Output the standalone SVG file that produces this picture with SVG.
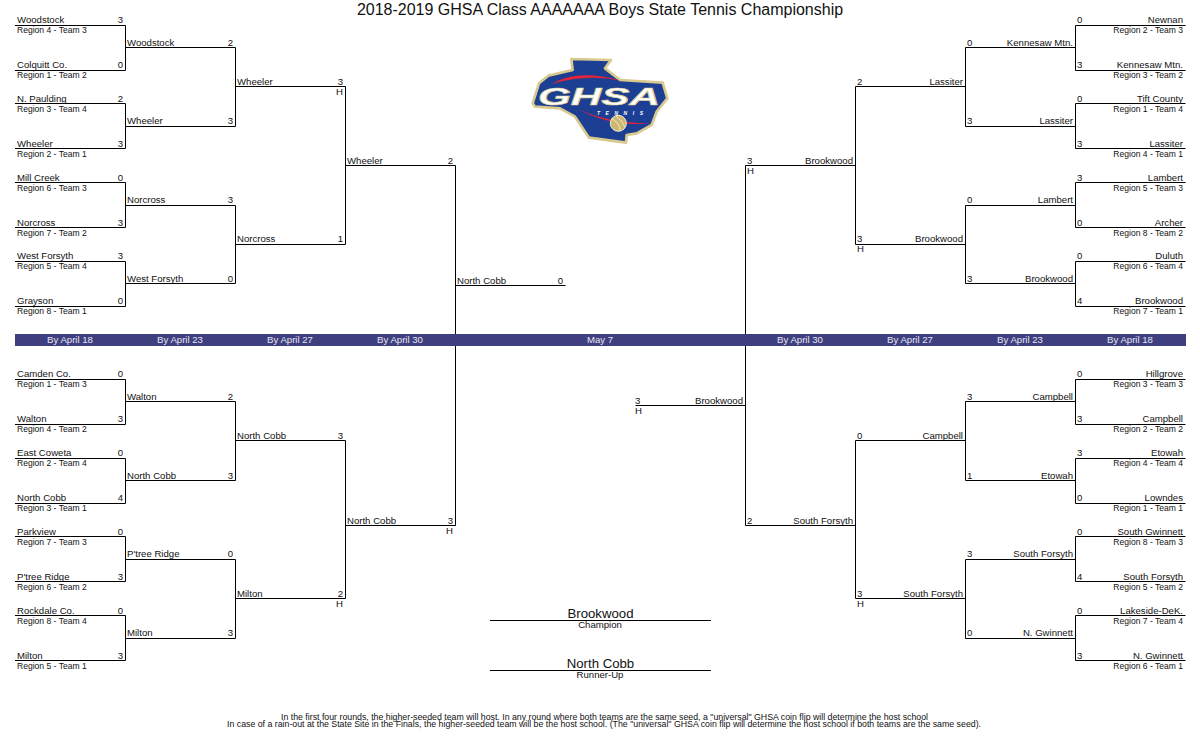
<svg xmlns="http://www.w3.org/2000/svg" width="1200" height="750" viewBox="0 0 1200 750">
<style>
text{font-family:"Liberation Sans",Arial,sans-serif;font-size:9.6px;fill:#111;opacity:.999}
.r{font-size:8.55px}
.e{text-anchor:end}
.m{text-anchor:middle}
.d{fill:#e6e6f2}
.big{font-size:13.2px}
.title{font-size:16px}
.fn{font-size:8.6px}
.line{fill:none;stroke:#000;stroke-width:1}
.gh{font-size:24px;font-weight:bold;font-style:italic;fill:#fff;stroke:#d8c98e;stroke-width:.7}
.tn{font-size:5px;font-weight:bold;font-style:italic;fill:#fff}
</style>
<rect width="1200" height="750" fill="#fff"/>
<text id="title" class="m title" x="600" y="14.5">2018-2019 GHSA Class AAAAAAA Boys State Tennis Championship</text>
<g id="connectors" class="line">
<path d="M15,25.5H125.5V70.5H15M15,103.5H125.5V148.5H15M15,182.5H125.5V227.5H15M15,261.5H125.5V306.5H15M15,379.5H125.5V424.5H15M15,458.5H125.5V503.5H15M15,536.5H125.5V581.5H15M15,615.5H125.5V660.5H15"/>
<path d="M125.5,47.5H235.5V126.5H125.5M125.5,205.5H235.5V283.5H125.5M125.5,401.5H235.5V480.5H125.5M125.5,559.5H235.5V638.5H125.5"/>
<path d="M235.5,86.5H345.5V244.5H235.5M235.5,440.5H345.5V598.5H235.5"/>
<path d="M345.5,165.5H455.5V525.5H345.5M455.5,285.5H565.5"/>
<path d="M1185.5,25.5H1075.5V70.5H1185.5M1185.5,103.5H1075.5V148.5H1185.5M1185.5,182.5H1075.5V227.5H1185.5M1185.5,261.5H1075.5V306.5H1185.5M1185.5,379.5H1075.5V424.5H1185.5M1185.5,458.5H1075.5V503.5H1185.5M1185.5,536.5H1075.5V581.5H1185.5M1185.5,615.5H1075.5V660.5H1185.5"/>
<path d="M1075.5,47.5H965.5V126.5H1075.5M1075.5,205.5H965.5V283.5H1075.5M1075.5,401.5H965.5V480.5H1075.5M1075.5,559.5H965.5V638.5H1075.5"/>
<path d="M965.5,86.5H855.5V244.5H965.5M965.5,440.5H855.5V598.5H965.5"/>
<path d="M855.5,165.5H745.5V525.5H855.5M745.5,405.5H635.5"/>
<path d="M490,620.5H711M490,670.5H711"/>
</g>
<g id="date-band">
<rect x="15" y="334" width="1171" height="12" fill="#3f3f7f"/>
<text class="m d" x="70" y="343">By April 18</text>
<text class="m d" x="180" y="343">By April 23</text>
<text class="m d" x="290" y="343">By April 27</text>
<text class="m d" x="400" y="343">By April 30</text>
<text class="m d" x="600" y="343">May 7</text>
<text class="m d" x="800" y="343">By April 30</text>
<text class="m d" x="910" y="343">By April 27</text>
<text class="m d" x="1020" y="343">By April 23</text>
<text class="m d" x="1130" y="343">By April 18</text>
</g>
<g id="logo">
<g transform="translate(510,40) scale(.3333)">
<path d="M184,57L303,60L285,85L330,120L458,128L472,175L440,215L425,255L380,280L350,285L348,308L237,293L205,245L195,230L150,205L75,200L68,190L87,130L115,107L188,90Z" fill="#1c3f94" stroke="#d8c98e" stroke-width="8" stroke-linejoin="round"/>
<path d="M125,132Q200,85 335,122Q230,100 125,132Z" fill="#e0243a"/>
<path d="M200,205Q290,250 420,250Q300,262 200,205Z" fill="#e0243a"/>
<circle cx="325" cy="250" r="24" fill="#cdb66f" stroke="#f4f0dc" stroke-width="3"/>
<path d="M305,235Q330,250 330,272M318,228Q340,245 345,262" fill="none" stroke="#fff" stroke-width="2"/>
</g>
<text class="gh" x="538" y="105" textLength="122" lengthAdjust="spacingAndGlyphs">GHSA</text>
<text class="tn" x="597" y="115" textLength="46">TENNIS</text>
</g>
<g id="left-round-1">
<g id="l1-1"><text x="17" y="23">Woodstock</text><text class="e" x="123" y="23">3</text><text class="r" x="17" y="33">Region 4 - Team 3</text></g>
<g id="l1-2"><text x="17" y="68">Colquitt Co.</text><text class="e" x="123" y="68">0</text><text class="r" x="17" y="78">Region 1 - Team 2</text></g>
<g id="l1-3"><text x="17" y="102">N. Paulding</text><text class="e" x="123" y="102">2</text><text class="r" x="17" y="112">Region 3 - Team 4</text></g>
<g id="l1-4"><text x="17" y="147">Wheeler</text><text class="e" x="123" y="147">3</text><text class="r" x="17" y="157">Region 2 - Team 1</text></g>
<g id="l1-5"><text x="17" y="181">Mill Creek</text><text class="e" x="123" y="181">0</text><text class="r" x="17" y="191">Region 6 - Team 3</text></g>
<g id="l1-6"><text x="17" y="226">Norcross</text><text class="e" x="123" y="226">3</text><text class="r" x="17" y="236">Region 7 - Team 2</text></g>
<g id="l1-7"><text x="17" y="259">West Forsyth</text><text class="e" x="123" y="259">3</text><text class="r" x="17" y="269">Region 5 - Team 4</text></g>
<g id="l1-8"><text x="17" y="304">Grayson</text><text class="e" x="123" y="304">0</text><text class="r" x="17" y="314">Region 8 - Team 1</text></g>
<g id="l1-9"><text x="17" y="377">Camden Co.</text><text class="e" x="123" y="377">0</text><text class="r" x="17" y="387">Region 1 - Team 3</text></g>
<g id="l1-10"><text x="17" y="422">Walton</text><text class="e" x="123" y="422">3</text><text class="r" x="17" y="432">Region 4 - Team 2</text></g>
<g id="l1-11"><text x="17" y="456">East Coweta</text><text class="e" x="123" y="456">0</text><text class="r" x="17" y="466">Region 2 - Team 4</text></g>
<g id="l1-12"><text x="17" y="501">North Cobb</text><text class="e" x="123" y="501">4</text><text class="r" x="17" y="511">Region 3 - Team 1</text></g>
<g id="l1-13"><text x="17" y="535">Parkview</text><text class="e" x="123" y="535">0</text><text class="r" x="17" y="545">Region 7 - Team 3</text></g>
<g id="l1-14"><text x="17" y="580">P'tree Ridge</text><text class="e" x="123" y="580">3</text><text class="r" x="17" y="590">Region 6 - Team 2</text></g>
<g id="l1-15"><text x="17" y="614">Rockdale Co.</text><text class="e" x="123" y="614">0</text><text class="r" x="17" y="624">Region 8 - Team 4</text></g>
<g id="l1-16"><text x="17" y="659">Milton</text><text class="e" x="123" y="659">3</text><text class="r" x="17" y="669">Region 5 - Team 1</text></g>
</g>
<g id="left-round-2">
<g id="l2-1"><text x="127" y="46">Woodstock</text><text class="e" x="233" y="46">2</text></g>
<g id="l2-2"><text x="127" y="124">Wheeler</text><text class="e" x="233" y="124">3</text></g>
<g id="l2-3"><text x="127" y="203">Norcross</text><text class="e" x="233" y="203">3</text></g>
<g id="l2-4"><text x="127" y="282">West Forsyth</text><text class="e" x="233" y="282">0</text></g>
<g id="l2-5"><text x="127" y="400">Walton</text><text class="e" x="233" y="400">2</text></g>
<g id="l2-6"><text x="127" y="479">North Cobb</text><text class="e" x="233" y="479">3</text></g>
<g id="l2-7"><text x="127" y="557">P'tree Ridge</text><text class="e" x="233" y="557">0</text></g>
<g id="l2-8"><text x="127" y="636">Milton</text><text class="e" x="233" y="636">3</text></g>
</g>
<g id="left-round-3">
<g id="l3-1"><text x="237" y="85">Wheeler</text><text class="e" x="343" y="85">3</text><text class="e" x="343" y="95">H</text></g>
<g id="l3-2"><text x="237" y="242">Norcross</text><text class="e" x="343" y="242">1</text></g>
<g id="l3-3"><text x="237" y="439">North Cobb</text><text class="e" x="343" y="439">3</text></g>
<g id="l3-4"><text x="237" y="597">Milton</text><text class="e" x="343" y="597">2</text><text class="e" x="343" y="607">H</text></g>
</g>
<g id="left-round-4">
<g id="l4-1"><text x="347" y="164">Wheeler</text><text class="e" x="453" y="164">2</text></g>
<g id="l4-2"><text x="347" y="524">North Cobb</text><text class="e" x="453" y="524">3</text><text class="e" x="453" y="534">H</text></g>
</g>
<g id="finalists">
<g id="final-left"><text x="457" y="284">North Cobb</text><text class="e" x="563" y="284">0</text></g>
<g id="final-right"><text class="e" x="743" y="404">Brookwood</text><text x="635" y="404">3</text><text x="635" y="414">H</text></g>
<g id="champion"><text class="m big" x="600.5" y="618">Brookwood</text><text class="m" x="600" y="628">Champion</text></g>
<g id="runner-up"><text class="m big" x="600.5" y="668">North Cobb</text><text class="m" x="600" y="678">Runner-Up</text></g>
</g>
<g id="right-round-1">
<g id="r1-1"><text class="e" x="1183" y="23">Newnan</text><text x="1077" y="23">0</text><text class="e r" x="1183" y="33">Region 2 - Team 3</text></g>
<g id="r1-2"><text class="e" x="1183" y="68">Kennesaw Mtn.</text><text x="1077" y="68">3</text><text class="e r" x="1183" y="78">Region 3 - Team 2</text></g>
<g id="r1-3"><text class="e" x="1183" y="102">Tift County</text><text x="1077" y="102">0</text><text class="e r" x="1183" y="112">Region 1 - Team 4</text></g>
<g id="r1-4"><text class="e" x="1183" y="147">Lassiter</text><text x="1077" y="147">3</text><text class="e r" x="1183" y="157">Region 4 - Team 1</text></g>
<g id="r1-5"><text class="e" x="1183" y="181">Lambert</text><text x="1077" y="181">3</text><text class="e r" x="1183" y="191">Region 5 - Team 3</text></g>
<g id="r1-6"><text class="e" x="1183" y="226">Archer</text><text x="1077" y="226">0</text><text class="e r" x="1183" y="236">Region 8 - Team 2</text></g>
<g id="r1-7"><text class="e" x="1183" y="259">Duluth</text><text x="1077" y="259">0</text><text class="e r" x="1183" y="269">Region 6 - Team 4</text></g>
<g id="r1-8"><text class="e" x="1183" y="304">Brookwood</text><text x="1077" y="304">4</text><text class="e r" x="1183" y="314">Region 7 - Team 1</text></g>
<g id="r1-9"><text class="e" x="1183" y="377">Hillgrove</text><text x="1077" y="377">0</text><text class="e r" x="1183" y="387">Region 3 - Team 3</text></g>
<g id="r1-10"><text class="e" x="1183" y="422">Campbell</text><text x="1077" y="422">3</text><text class="e r" x="1183" y="432">Region 2 - Team 2</text></g>
<g id="r1-11"><text class="e" x="1183" y="456">Etowah</text><text x="1077" y="456">3</text><text class="e r" x="1183" y="466">Region 4 - Team 4</text></g>
<g id="r1-12"><text class="e" x="1183" y="501">Lowndes</text><text x="1077" y="501">0</text><text class="e r" x="1183" y="511">Region 1 - Team 1</text></g>
<g id="r1-13"><text class="e" x="1183" y="535">South Gwinnett</text><text x="1077" y="535">0</text><text class="e r" x="1183" y="545">Region 8 - Team 3</text></g>
<g id="r1-14"><text class="e" x="1183" y="580">South Forsyth</text><text x="1077" y="580">4</text><text class="e r" x="1183" y="590">Region 5 - Team 2</text></g>
<g id="r1-15"><text class="e" x="1183" y="614">Lakeside-DeK.</text><text x="1077" y="614">0</text><text class="e r" x="1183" y="624">Region 7 - Team 4</text></g>
<g id="r1-16"><text class="e" x="1183" y="659">N. Gwinnett</text><text x="1077" y="659">3</text><text class="e r" x="1183" y="669">Region 6 - Team 1</text></g>
</g>
<g id="right-round-2">
<g id="r2-1"><text class="e" x="1073" y="46">Kennesaw Mtn.</text><text x="967" y="46">0</text></g>
<g id="r2-2"><text class="e" x="1073" y="124">Lassiter</text><text x="967" y="124">3</text></g>
<g id="r2-3"><text class="e" x="1073" y="203">Lambert</text><text x="967" y="203">0</text></g>
<g id="r2-4"><text class="e" x="1073" y="282">Brookwood</text><text x="967" y="282">3</text></g>
<g id="r2-5"><text class="e" x="1073" y="400">Campbell</text><text x="967" y="400">3</text></g>
<g id="r2-6"><text class="e" x="1073" y="479">Etowah</text><text x="967" y="479">1</text></g>
<g id="r2-7"><text class="e" x="1073" y="557">South Forsyth</text><text x="967" y="557">3</text></g>
<g id="r2-8"><text class="e" x="1073" y="636">N. Gwinnett</text><text x="967" y="636">0</text></g>
</g>
<g id="right-round-3">
<g id="r3-1"><text class="e" x="963" y="85">Lassiter</text><text x="857" y="85">2</text></g>
<g id="r3-2"><text class="e" x="963" y="242">Brookwood</text><text x="857" y="242">3</text><text x="857" y="252">H</text></g>
<g id="r3-3"><text class="e" x="963" y="439">Campbell</text><text x="857" y="439">0</text></g>
<g id="r3-4"><text class="e" x="963" y="597">South Forsyth</text><text x="857" y="597">3</text><text x="857" y="607">H</text></g>
</g>
<g id="right-round-4">
<g id="r4-1"><text class="e" x="853" y="164">Brookwood</text><text x="747" y="164">3</text><text x="747" y="174">H</text></g>
<g id="r4-2"><text class="e" x="853" y="524">South Forsyth</text><text x="747" y="524">2</text></g>
</g>
<g id="footnote">
<text class="fn" x="281" y="720" textLength="647" lengthAdjust="spacingAndGlyphs">In the first four rounds, the higher-seeded team will host. In any round where both teams are the same seed, a "universal" GHSA coin flip will determine the host school</text>
<text class="fn" x="227" y="727" textLength="754" lengthAdjust="spacingAndGlyphs">In case of a rain-out at the State Site in the Finals, the higher-seeded team will be the host school. (The "universal" GHSA coin flip will determine the host school if both teams are the same seed).</text>
</g>
</svg>
